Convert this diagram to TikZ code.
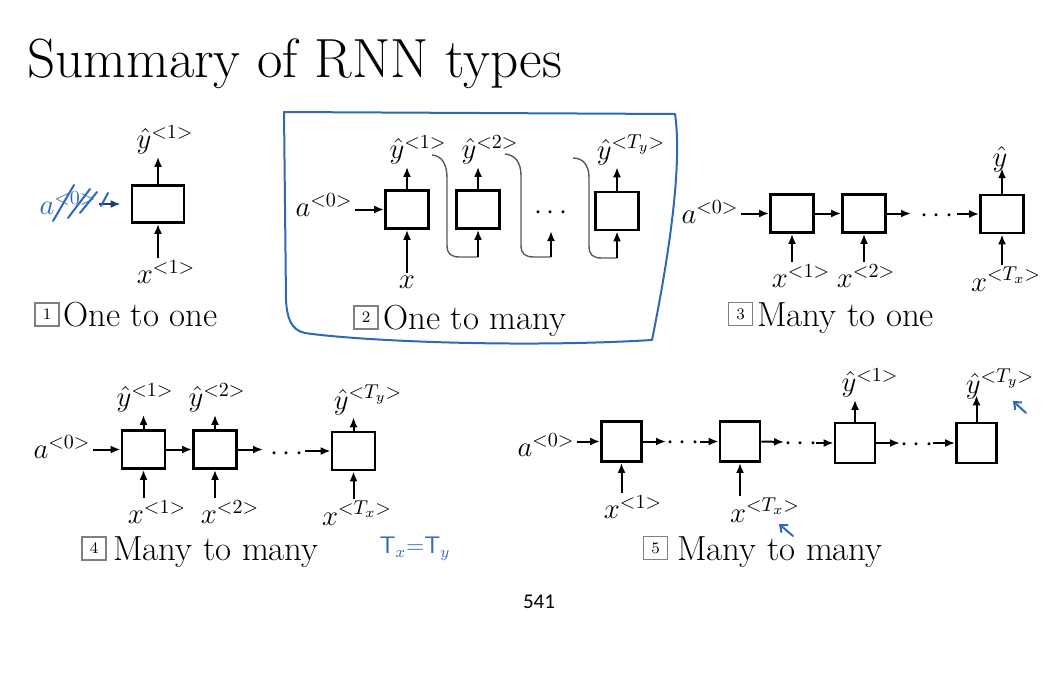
\documentclass[tikz,border=0pt]{standalone}
\usepackage{fontspec}
\newfontfamily\pagefont{Carlito}
\usetikzlibrary{arrows.meta}
\definecolor{handblue}{RGB}{45,105,180}
\tikzset{
  cell/.style={draw, line width=1.4pt, minimum width=21.5pt, minimum height=19pt, inner sep=0pt},
  lbl/.style={inner sep=1pt, font=\fontsize{14}{16}\selectfont},
  arr/.style={-{Latex[length=5pt,width=4pt]}, line width=1pt},
  captext/.style={anchor=base west, inner sep=0pt, font=\fontsize{17.4}{20}\selectfont},
  numbox/.style={draw=gray, line width=0.6pt, minimum width=12pt, minimum height=11.5pt, inner sep=0pt, font=\fontsize{8}{9}\selectfont},
  hand/.style={draw=handblue, line width=1pt, line cap=round, line join=round},
  link/.style={draw=gray!70!black, line width=0.7pt}
}
\begin{document}
\begin{tikzpicture}[x=0.5pt,y=-0.5pt]
  \useasboundingbox (0,0) rectangle (1058,680);
  \node[anchor=base west, inner sep=0pt, font=\fontsize{27.6}{32}\selectfont] (title) at (27,77) {Summary of RNN types};

  \node[cell, minimum width=26pt, minimum height=18.5pt] (c1) at (158,204) {};
  \node[lbl] (y11) at (165,140) {$\hat{y}^{<1>}$};
  \node[lbl] (x11) at (166,272) {$x^{<1>}$};
  \node[lbl, text=handblue] (a01) at (68,203) {$a^{<0>}$};
  \draw[arr] (c1.north) -- (c1.north |- y11.south);
  \draw[arr] (c1.south |- x11.north) -- (c1.south);
  \draw[arr, handblue!60!black, shorten >=5pt] (a01.east |- c1.west) -- (c1.west);
  \draw[hand] (53,221) -- (74,185);
  \draw[hand] (68,218) -- (90,189);
  \draw[hand] (80,213) -- (97,192);
  \draw[hand] (101,206) -- (108,193);
  \node[numbox] (n1) at (47,314.5) {1};
  \node[captext] (t1) at (63,326) {One to one};

  \draw[hand] (284,112) -- (675,114) .. controls (684,175) and (662,290) .. (652,340)
    .. controls (520,348) and (360,341) .. (305,333) .. controls (291,330) and (287,318) .. (286,300) -- cycle;
  \node[cell] (b21) at (407,209.5) {};
  \node[cell] (b22) at (478,209.5) {};
  \node[cell] (b23) at (617,211) {};
  \node[lbl] (dots2) at (551,213) {$\cdots$};
  \node[lbl] (a02) at (324,205) {$a^{<0>}$};
  \node[lbl] (y21) at (418,150) {$\hat{y}^{<1>}$};
  \node[lbl] (y22) at (490,150) {$\hat{y}^{<2>}$};
  \node[lbl] (y23) at (631,150) {$\hat{y}^{<T_y>}$};
  \node[lbl] (x2) at (407,282) {$x$};
  \draw[arr] (a02.east |- b21.west) -- (b21.west);
  \draw[arr] (b21.north) -- (b21.north |- y21.south);
  \draw[arr] (b22.north) -- (b22.north |- y22.south);
  \draw[arr] (b23.north) -- (b23.north |- y23.south);
  \draw[arr] (b21.south |- x2.north) -- (b21.south);
  \coordinate (s1) at (432,155);
  \coordinate (s2) at (505,154);
  \coordinate (s3) at (573,158);
  \coordinate (e1) at (b22.south |- 0,257);
  \coordinate (e2) at (551,257);
  \coordinate (e3) at (b23.south |- 0,258);
  \coordinate (t2) at (551,231);
  \draw[link] (s1) .. controls (442,156) and (447,164) .. (447,178) -- (447,245) .. controls (447,254) and (451,257) .. (460,257) -- (e1);
  \draw[link] (s2) .. controls (515,155) and (521,162) .. (521,176) -- (521,245) .. controls (521,254) and (525,257) .. (534,257) -- (e2);
  \draw[link] (s3) .. controls (583,158) and (589,165) .. (589,178) -- (589,246) .. controls (589,255) and (593,258) .. (602,258) -- (e3);
  \draw[arr] (e1) -- (b22.south);
  \draw[arr] (e2) -- (t2);
  \draw[arr] (e3) -- (b23.south);
  \node[numbox] (n2) at (366,317.5) {2};
  \node[captext] (t2c) at (383,329) {One to many};

  \node[cell] (p1) at (792,213.5) {};
  \node[cell] (p2) at (864,213.5) {};
  \node[cell] (p3) at (1002,214) {};
  \node[lbl] (dots3) at (937,216) {$\cdots$};
  \node[lbl] (a03) at (710,212) {$a^{<0>}$};
  \node[lbl] (y3) at (1000,159) {$\hat{y}$};
  \node[lbl] (x31) at (801,276) {$x^{<1>}$};
  \node[lbl] (x32) at (866,276) {$x^{<2>}$};
  \node[lbl] (x33) at (1006,279) {$x^{<T_x>}$};
  \coordinate (o3) at (911,213.5);
  \coordinate (i3) at (957,214);
  \draw[arr] (a03.east |- p1.west) -- (p1.west);
  \draw[arr] (p1) -- (p2);
  \draw[arr] (p2.east) -- (o3);
  \draw[arr] (i3) -- (p3.west);
  \draw[arr] (p3.north) -- ([yshift=3pt]p3.north |- y3.south);
  \draw[arr] (p1.south |- x31.north) -- (p1.south);
  \draw[arr] (p2.south |- x32.north) -- (p2.south);
  \draw[arr] (p3.south |- x33.north) -- (p3.south);
  \node[numbox] (n3) at (740.5,314) {3};
  \node[captext] (t3) at (757,326) {Many to one};

  \node[cell] (q1) at (143.5,449.5) {};
  \node[cell] (q2) at (215,449.5) {};
  \node[cell] (q3) at (353.5,451) {};
  \node[lbl] (dots4) at (287,454) {$\cdots$};
  \node[lbl] (a04) at (62,447) {$a^{<0>}$};
  \node[lbl] (y41) at (145,398) {$\hat{y}^{<1>}$};
  \node[lbl] (y42) at (217,398) {$\hat{y}^{<2>}$};
  \node[lbl] (y43) at (368,400) {$\hat{y}^{<T_y>}$};
  \node[lbl] (x41) at (157,512) {$x^{<1>}$};
  \node[lbl] (x42) at (230,512) {$x^{<2>}$};
  \node[lbl] (x43) at (357,513) {$x^{<T_x>}$};
  \coordinate (o4) at (263,449.5);
  \coordinate (i4) at (305,451);
  \draw[arr] (a04.east |- q1.west) -- (q1.west);
  \draw[arr] (q1) -- (q2);
  \draw[arr] (q2.east) -- (o4);
  \draw[arr] (i4) -- (q3.west);
  \draw[arr] (q1.north) -- (q1.north |- y41.south);
  \draw[arr] (q2.north) -- (q2.north |- y42.south);
  \draw[arr] (q3.north) -- (q3.north |- y43.south);
  \draw[arr] (q1.south |- x41.north) -- (q1.south);
  \draw[arr] (q2.south |- x42.north) -- (q2.south);
  \draw[arr] (q3.south |- x43.north) -- (q3.south);
  \node[numbox] (n4) at (94,548.5) {4};
  \node[captext] (t4) at (113,560) {Many to many};
  \node[text=handblue, font=\sffamily\fontsize{12}{14}\selectfont] (txty) at (415,549) {T$_x$=T$_y$};

  \node[cell, minimum width=20pt, minimum height=20pt] (r1) at (621.5,441.5) {};
  \node[cell, minimum width=20pt, minimum height=20pt] (r2) at (740,441.5) {};
  \node[cell, minimum width=20pt, minimum height=20pt] (r3) at (855,443) {};
  \node[cell, minimum width=20pt, minimum height=20pt] (r4) at (976.5,443) {};
  \node[lbl] (dots51) at (683,443) {$\cdots$};
  \node[lbl] (dots52) at (801,444) {$\cdots$};
  \node[lbl] (dots53) at (917,445) {$\cdots$};
  \node[lbl] (a05) at (546,445) {$a^{<0>}$};
  \node[lbl] (y51) at (870,383) {$\hat{y}^{<1>}$};
  \node[lbl] (y52) at (1000,384) {$\hat{y}^{<T_y>}$};
  \node[lbl] (x51) at (633,507) {$x^{<1>}$};
  \node[lbl] (x52) at (765,510) {$x^{<T_x>}$};
  \coordinate (o51) at (666,441.5);
  \coordinate (i51) at (700,441.5);
  \coordinate (o52) at (784,442);
  \coordinate (i52) at (816,443);
  \coordinate (o53) at (900,443);
  \coordinate (i53) at (933,443);
  \draw[arr] (a05.east |- r1.west) -- (r1.west);
  \draw[arr] (r1.east) -- (o51);
  \draw[arr] (i51) -- (r2.west);
  \draw[arr] (r2.east) -- (o52);
  \draw[arr] (i52) -- (r3.west);
  \draw[arr] (r3.east) -- (o53);
  \draw[arr] (i53) -- (r4.west);
  \draw[arr] (r3.north) -- (r3.north |- y51.south);
  \draw[arr] (r4.north) -- ([yshift=3pt]r4.north |- y52.south);
  \draw[arr] (r1.south |- x51.north) -- (r1.south);
  \draw[arr] (r2.south |- x52.north) -- (r2.south);
  \draw[hand, -{Straight Barb[length=3pt,width=5pt]}] (793,536) -- (779,524);
  \draw[hand, -{Straight Barb[length=3pt,width=5pt]}] (1026,413) -- (1013,401);
  \node[numbox] (n5) at (655.5,548) {5};
  \node[captext] (t5) at (677,560) {Many to many};

  \node[font=\pagefont\fontsize{10.5}{12}\selectfont] (page) at (539,602) {541};
\end{tikzpicture}
\end{document}
